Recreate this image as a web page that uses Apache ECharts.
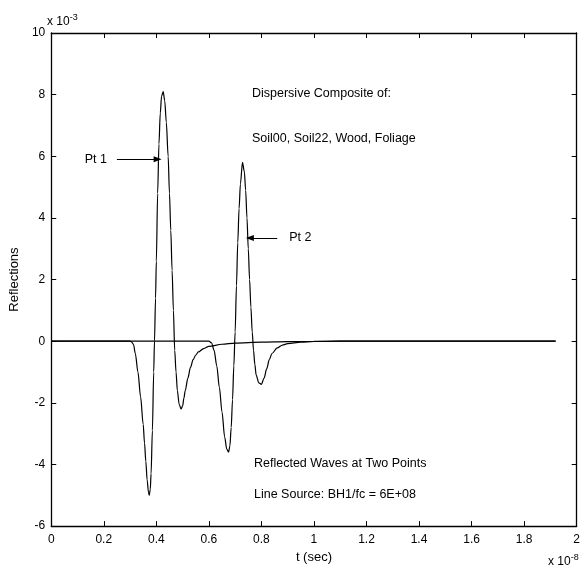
<!DOCTYPE html>
<html>
<head>
<meta charset="utf-8">
<script src="https://cdn.jsdelivr.net/npm/echarts@6/dist/echarts.min.js"></script>
<style>
html,body{margin:0;padding:0;background:#fff;}
#c{width:583px;height:569px;}
</style>
</head>
<body>
<div id="c"></div>
<script>
// Values in units of 1e-8 s (x) and 1e-3 (y)
const pt1 = [[0,0],[0.30,0],[0.305,-0.02],[0.313,-0.1],[0.32,-0.4],[0.33,-1.0],[0.34,-1.8],[0.35,-2.7],[0.355,-3.3],[0.36,-3.9],[0.365,-4.5],[0.37,-4.9],[0.373,-5.0],[0.377,-4.8],[0.38,-4.3],[0.385,-2.9],[0.39,-1.0],[0.393,0],[0.397,1.4],[0.40,2.6],[0.405,4.8],[0.41,6.4],[0.415,7.4],[0.42,7.95],[0.426,8.1],[0.432,7.8],[0.438,7.1],[0.445,6.0],[0.45,4.8],[0.455,3.6],[0.46,2.3],[0.465,1.0],[0.47,-0.3],[0.475,-1.0],[0.48,-1.6],[0.487,-2.05],[0.494,-2.2],[0.50,-2.1],[0.505,-1.85],[0.51,-1.6],[0.52,-1.2],[0.53,-0.85],[0.54,-0.6],[0.55,-0.45],[0.56,-0.35],[0.58,-0.24],[0.60,-0.17],[0.65,-0.1],[0.70,-0.06],[0.80,-0.03],[0.9,-0.015],[1.0,-0.005],[1.1,0],[1.92,0]];
const pt2 = [[0,0],[0.60,0],[0.61,-0.05],[0.62,-0.3],[0.63,-0.8],[0.64,-1.5],[0.65,-2.3],[0.66,-3.1],[0.668,-3.5],[0.675,-3.6],[0.68,-3.4],[0.685,-2.8],[0.69,-1.9],[0.695,-0.8],[0.70,0.3],[0.705,1.8],[0.71,3.2],[0.715,4.3],[0.72,5.1],[0.728,5.8],[0.735,5.5],[0.74,4.9],[0.745,4.0],[0.75,3.0],[0.755,2.0],[0.76,1.1],[0.765,0.3],[0.77,-0.3],[0.775,-0.75],[0.78,-1.1],[0.79,-1.35],[0.80,-1.4],[0.81,-1.2],[0.82,-0.9],[0.83,-0.6],[0.84,-0.4],[0.86,-0.22],[0.88,-0.13],[0.9,-0.08],[0.95,-0.03],[1.0,-0.01],[1.1,0],[1.92,0]];
const xTicks = [0,0.2,0.4,0.6,0.8,1,1.2,1.4,1.6,1.8,2];
const yTicks = [-6,-4,-2,0,2,4,6,8,10];
const arrow1 = [[0.25,5.9],[0.405,5.9]];
const arrow2 = [[0.86,3.35],[0.756,3.35]];
const labelsText = {
  pt1: 'Pt 1', pt2: 'Pt 2',
  l1: 'Dispersive Composite of:', l2: 'Soil00, Soil22, Wood, Foliage',
  l3: 'Reflected Waves at Two Points', l4: 'Line Source: BH1/fc = 6E+08'
};

const FONT = '"Liberation Sans", Arial, sans-serif';
const chart = echarts.init(document.getElementById('c'), null, {renderer:'canvas'});
const axisCommon = {
  type:'value',
  axisLine:{show:true, onZero:false, lineStyle:{color:'#000', width:1.3}},
  axisTick:{show:true, inside:true, length:5, lineStyle:{color:'#000', width:1}},
  splitLine:{show:false},
};
const fmt = v => String(Number(v.toFixed(1)));
chart.setOption({
  animation:false,
  backgroundColor:'#fff',
  grid:{left:49, right:5, top:33, bottom:40, containLabel:false},
  xAxis:[
    Object.assign({}, axisCommon, {position:'bottom', min:xTicks[0], max:xTicks[xTicks.length-1], interval:0.2,
      axisLabel:{color:'#000', fontFamily:FONT, fontSize:12, margin:8, formatter:fmt},
      name:'t (sec)', nameLocation:'middle', nameGap:24, nameTextStyle:{color:'#000', fontFamily:FONT, fontSize:13}}),
    Object.assign({}, axisCommon, {position:'top', min:0, max:2, interval:0.2, axisLabel:{show:false}})
  ],
  yAxis:[
    Object.assign({}, axisCommon, {position:'left', min:yTicks[0], max:yTicks[yTicks.length-1], interval:2,
      axisLabel:{color:'#000', fontFamily:FONT, fontSize:12, margin:6, formatter:fmt},
      name:'Reflections', nameLocation:'middle', nameGap:28, nameRotate:90, nameTextStyle:{color:'#000', fontFamily:FONT, fontSize:13}}),
    Object.assign({}, axisCommon, {position:'right', min:-6, max:10, interval:2, axisLabel:{show:false}})
  ],
  series:[
    {type:'line', name:'Pt 1', data:pt1, showSymbol:false, smooth:0.3, smoothMonotone:'x',
      lineStyle:{color:'#000', width:1.2}, z:3,
      markLine:{silent:true, symbol:['none','triangle'], symbolSize:[6,8], animation:false,
        lineStyle:{color:'#000', width:1, type:'solid'}, label:{show:false},
        data:[[{coord:arrow1[0]},{coord:arrow1[1]}]]}},
    {type:'line', name:'Pt 2', data:pt2, showSymbol:false, smooth:0.3, smoothMonotone:'x',
      lineStyle:{color:'#000', width:1.2}, z:3,
      markLine:{silent:true, symbol:['none','triangle'], symbolSize:[6,8], animation:false,
        lineStyle:{color:'#000', width:1, type:'solid'}, label:{show:false},
        data:[[{coord:arrow2[0]},{coord:arrow2[1]}]]}}
  ]
});

const P = (x,y) => chart.convertToPixel({gridIndex:0}, [x,y]);
const a1 = P(arrow1[0][0], arrow1[0][1]);
const a2 = P(arrow2[0][0], arrow2[0][1]);
const txt = (x,y,s,align) => ({type:'text', left:undefined, x:x, y:y,
  style:{text:s, fill:'#000', font:'12.5px '+FONT, textAlign:align||'left', textVerticalAlign:'middle'}});
chart.setOption({
  graphic:[
    txt(a1[0]-10, a1[1], labelsText.pt1, 'right'),
    txt(a2[0]+12, a2[1], labelsText.pt2, 'left'),
    txt(252, 94, labelsText.l1),
    txt(252, 139, labelsText.l2),
    txt(254, 464, labelsText.l3),
    txt(254, 495, labelsText.l4),
    {type:'text', x:47, y:22, style:{rich:{a:{fontFamily:FONT, fontSize:12, fill:'#000'}, s:{fontFamily:FONT, fontSize:9, fill:'#000', verticalAlign:'top', padding:[0,0,8,0]}}, text:'{a|x 10}{s|-3}', textVerticalAlign:'middle'}},
    {type:'text', x:548, y:562, style:{rich:{a:{fontFamily:FONT, fontSize:12, fill:'#000'}, s:{fontFamily:FONT, fontSize:9, fill:'#000', padding:[0,0,8,0]}}, text:'{a|x 10}{s|-8}', textVerticalAlign:'middle'}}
  ]
});
</script>
</body>
</html>
